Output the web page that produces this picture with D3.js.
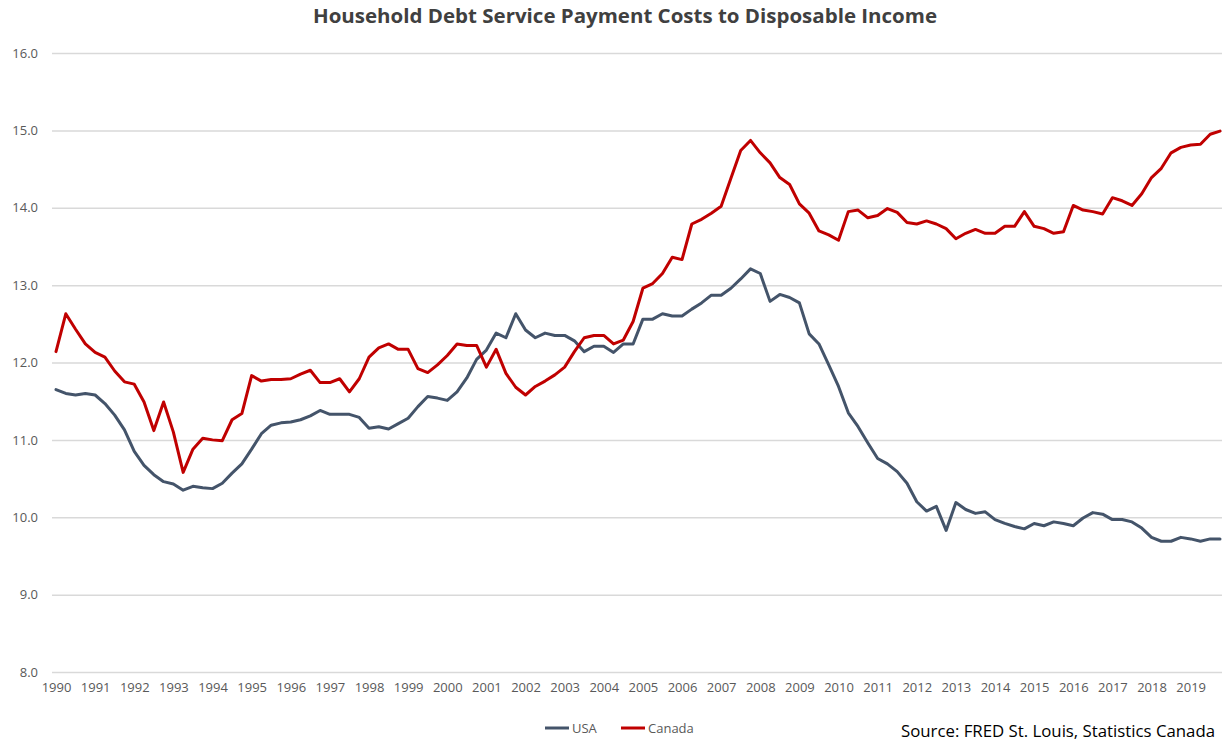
<!DOCTYPE html>
<html>
<head>
<meta charset="utf-8">
<script src="https://cdn.jsdelivr.net/npm/d3@7"></script>
<style>
  html, body { margin: 0; padding: 0; background: #ffffff; }
  svg { display: block; }
</style>
</head>
<body>
<svg id="chart" width="1223" height="742"></svg>
<script>
// ---- data ----
const title = "Household Debt Service Payment Costs to Disposable Income";
const source = "Source: FRED St. Louis, Statistics Canada";
const years = [1990,1991,1992,1993,1994,1995,1996,1997,1998,1999,2000,2001,2002,2003,2004,
               2005,2006,2007,2008,2009,2010,2011,2012,2013,2014,2015,2016,2017,2018,2019];
const quarterNames = ["Q1","Q2","Q3","Q4"];
const yTicks = [8,9,10,11,12,13,14,15,16];
const seriesNames = ["USA","Canada"];

const usa = [
  11.65,11.60,11.58,11.60, 11.58,11.47,11.32,11.13, 10.85,10.67,10.55,10.46, 10.43,10.35,10.40,10.38,
  10.37,10.44,10.57,10.69, 10.88,11.08,11.19,11.22, 11.23,11.26,11.31,11.38, 11.33,11.33,11.33,11.29,
  11.15,11.17,11.14,11.21, 11.28,11.43,11.56,11.54, 11.51,11.62,11.80,12.04, 12.16,12.38,12.32,12.63,
  12.42,12.32,12.38,12.35, 12.35,12.28,12.14,12.21, 12.21,12.13,12.24,12.24, 12.56,12.56,12.63,12.60,
  12.60,12.69,12.77,12.87, 12.87,12.96,13.08,13.21, 13.15,12.79,12.88,12.84, 12.77,12.37,12.24,11.97,
  11.69,11.35,11.17,10.96, 10.76,10.69,10.59,10.44, 10.20,10.08,10.14,9.83, 10.19,10.10,10.05,10.07,
  9.97,9.92,9.88,9.85, 9.92,9.89,9.94,9.92, 9.89,9.99,10.06,10.04, 9.97,9.97,9.94,9.86,
  9.74,9.69,9.69,9.74, 9.72,9.69,9.72,9.72
];
const canada = [
  12.14,12.63,12.43,12.24, 12.13,12.07,11.89,11.75, 11.72,11.49,11.12,11.49, 11.10,10.58,10.88,11.02,
  11.00,10.99,11.26,11.34, 11.83,11.76,11.78,11.78, 11.79,11.85,11.90,11.74, 11.74,11.79,11.62,11.79,
  12.07,12.19,12.24,12.17, 12.17,11.92,11.87,11.97, 12.09,12.24,12.22,12.22, 11.94,12.17,11.86,11.68,
  11.58,11.69,11.76,11.84, 11.94,12.14,12.32,12.35, 12.35,12.24,12.29,12.53, 12.96,13.02,13.15,13.36,
  13.33,13.79,13.85,13.93, 14.02,14.38,14.74,14.87, 14.71,14.58,14.39,14.30, 14.05,13.93,13.70,13.65,
  13.58,13.95,13.97,13.87, 13.90,13.99,13.94,13.81, 13.79,13.83,13.79,13.73, 13.60,13.67,13.72,13.67,
  13.67,13.76,13.76,13.95, 13.76,13.73,13.67,13.69, 14.03,13.97,13.95,13.92, 14.13,14.09,14.03,14.18,
  14.39,14.51,14.71,14.78, 14.81,14.82,14.95,14.99
];

// ---- build ----
const categories = [];
years.forEach(y => quarterNames.forEach(q => categories.push(y + q)));
const series = [
  { name: seriesNames[0], values: usa, color: "#44546a" },
  { name: seriesNames[1], values: canada, color: "#c00000" }
];

const svg = d3.select("#chart");
const plot = { left: 52, right: 1222, top: 53, bottom: 672 };

const x = d3.scalePoint().domain(categories).range([56, 1220]);
const y = d3.scaleLinear().domain([8, 16]).range([plot.bottom, plot.top]);

// gridlines
svg.append("g")
  .attr("transform", `translate(${plot.left},0)`)
  .call(d3.axisLeft(y).tickValues(yTicks).tickSize(-(plot.right - plot.left)).tickFormat(""))
  .call(g => g.select(".domain").remove())
  .call(g => g.selectAll("line").attr("stroke", "#d9d9d9").attr("stroke-width", 1.5));

// y labels
svg.append("g")
  .attr("transform", `translate(38,0)`)
  .call(d3.axisLeft(y).tickValues(yTicks).tickSize(0).tickPadding(0).tickFormat(d3.format(".1f")))
  .call(g => g.select(".domain").remove())
  .call(g => g.selectAll("text")
    .attr("fill", "#595959")
    .style("font-family", "'Open Sans', 'Liberation Sans', sans-serif")
    .style("font-size", "13px"));

// x labels
svg.append("g")
  .attr("transform", `translate(0,${plot.bottom})`)
  .call(d3.axisBottom(x)
    .tickValues(categories.filter(c => c.endsWith("Q1")))
    .tickSize(0).tickPadding(11)
    .tickFormat(c => c.slice(0, 4)))
  .call(g => g.select(".domain").remove())
  .call(g => g.selectAll("text")
    .attr("fill", "#595959")
    .style("font-family", "'Open Sans', 'Liberation Sans', sans-serif")
    .style("font-size", "13px"));

// lines
const line = d3.line()
  .x((d, i) => x(categories[i]))
  .y(d => y(d));

svg.append("g").selectAll("path")
  .data(series)
  .join("path")
  .attr("d", s => line(s.values))
  .attr("fill", "none")
  .attr("stroke", s => s.color)
  .attr("stroke-width", 3)
  .attr("stroke-linejoin", "round")
  .attr("stroke-linecap", "round");

// title
svg.append("text")
  .attr("x", 625)
  .attr("y", 23)
  .attr("text-anchor", "middle")
  .attr("fill", "#404040")
  .attr("textLength", 624)
  .attr("lengthAdjust", "spacingAndGlyphs")
  .style("font-family", "'Open Sans', 'Liberation Sans', sans-serif")
  .style("font-weight", "700")
  .style("font-size", "20px")
  .text(title);

// legend
const legendPos = [545, 621];
const lg = svg.append("g").selectAll("g")
  .data(series)
  .join("g")
  .attr("transform", (d, i) => `translate(${legendPos[i]},728)`);
lg.append("line")
  .attr("x1", 0).attr("x2", 24).attr("y1", 0).attr("y2", 0)
  .attr("stroke", d => d.color).attr("stroke-width", 3);
lg.append("text")
  .attr("x", 27).attr("y", 0).attr("dy", "0.35em")
  .attr("fill", "#595959")
  .style("font-family", "'Open Sans', 'Liberation Sans', sans-serif")
  .style("font-size", "13px")
  .text(d => d.name);

// source
svg.append("text")
  .attr("x", 1215)
  .attr("y", 737)
  .attr("text-anchor", "end")
  .attr("fill", "#000000")
  .attr("textLength", 314)
  .attr("lengthAdjust", "spacingAndGlyphs")
  .style("font-family", "'Open Sans', 'Liberation Sans', sans-serif")
  .style("font-size", "16px")
  .text(source);
</script>
</body>
</html>
